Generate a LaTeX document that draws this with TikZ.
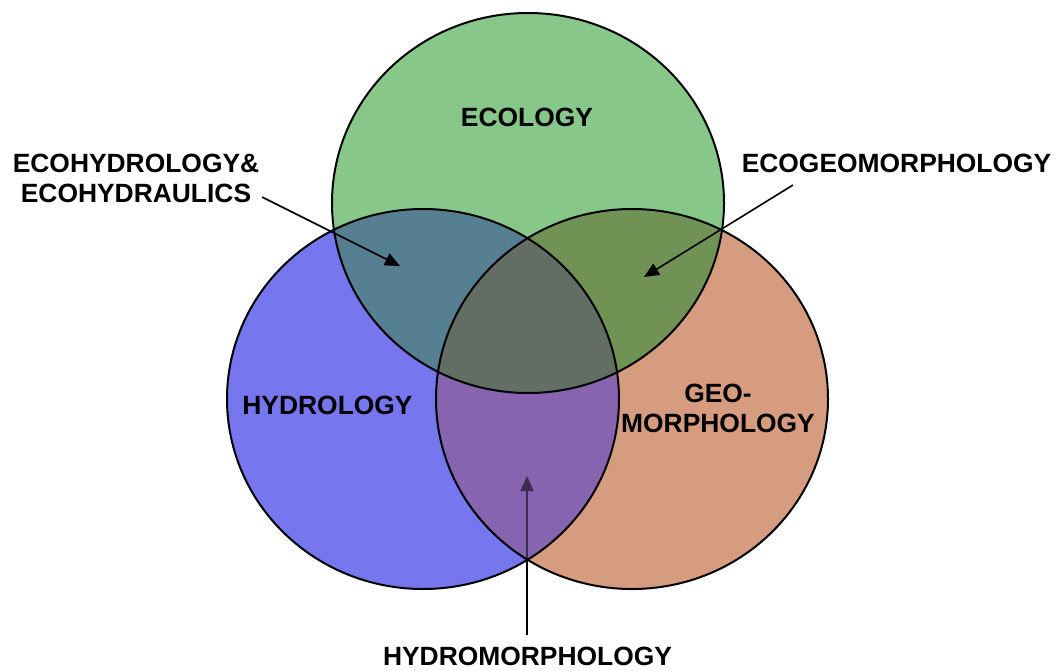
\documentclass[tikz,border=0pt]{standalone}
\usepackage{fontspec}
\setmainfont{Liberation Sans}
\usetikzlibrary{arrows.meta}

% fill colours of the seven regions
\definecolor{ecoFill}{RGB}{135,200,138}
\definecolor{hydroFill}{RGB}{118,118,238}
\definecolor{geoFill}{RGB}{214,156,128}
\definecolor{ecoHydroFill}{RGB}{86,128,146}
\definecolor{ecoGeoFill}{RGB}{112,146,84}
\definecolor{hydroGeoFill}{RGB}{134,100,176}
\definecolor{allFill}{RGB}{98,110,100}

\begin{document}
\begin{tikzpicture}[x=1pt,y=-1pt,
  outline/.style={draw=black,line width=2pt},
  lbl/.style={font=\bfseries\fontsize{26.4}{30}\selectfont,inner sep=0pt,align=center},
  pointer/.style={draw=black,line width=1.6pt,-{Triangle[length=15pt,width=13pt]}}]
\useasboundingbox (0,0) rectangle (1057,670);

% centres of the three discs
\coordinate (ecoC)   at (528,203);
\coordinate (hydroC) at (423,399);
\coordinate (geoC)   at (632,399);
\def\ecoPath{(ecoC) ellipse [x radius=196, y radius=190]}
\def\hydroPath{(hydroC) ellipse [x radius=196, y radius=190]}
\def\geoPath{(geoC) ellipse [x radius=196, y radius=190]}

% single-discipline areas
\fill[ecoFill] \ecoPath;
\fill[hydroFill] \hydroPath;
\fill[geoFill] \geoPath;

% pairwise overlaps
\begin{scope}\clip \ecoPath; \fill[ecoHydroFill] \hydroPath; \end{scope}
\begin{scope}\clip \ecoPath; \fill[ecoGeoFill] \geoPath; \end{scope}
\begin{scope}\clip \hydroPath; \fill[hydroGeoFill] \geoPath; \end{scope}
% common core
\begin{scope}\clip \ecoPath; \clip \hydroPath; \fill[allFill] \geoPath; \end{scope}

% labels
\node[lbl] (ecology)   at (527,117)   {ECOLOGY};
\node[lbl] (hydrology) at (327.5,405) {HYDROLOGY};
\node[lbl] (geomorph)  at (718,408)   {GEO-\\MORPHOLOGY};
\node[lbl] (ecohydro)  at (136,178)   {ECOHYDROLOGY\&\\ECOHYDRAULICS};
\node[lbl] (ecogeo)    at (896.5,163) {ECOGEOMORPHOLOGY};
\node[lbl] (hydromorph) at (527.5,656) {HYDROMORPHOLOGY};

% pointer ends
\coordinate (ehTail) at (262,197);
\coordinate (ehTip)  at (400,266);
\coordinate (egTail) at (793,185);
\coordinate (egTip)  at (644,277);
\coordinate (hmTail) at (527,635);
\coordinate (hmTip)  at (527,476);

% hydromorphology pointer sits under a tinted veil of its lens
\draw[pointer] (hmTail) -- (hmTip);
\begin{scope}
  \clip \hydroPath; \clip \geoPath;
  \fill[hydroGeoFill, fill opacity=0.45, even odd rule] \ecoPath (0,0) rectangle (1057,670);
\end{scope}

% outlines
\draw[outline] \ecoPath;
\draw[outline] \hydroPath;
\draw[outline] \geoPath;

\draw[pointer] (ehTail) -- (ehTip);
\draw[pointer] (egTail) -- (egTip);
\end{tikzpicture}
\end{document}
